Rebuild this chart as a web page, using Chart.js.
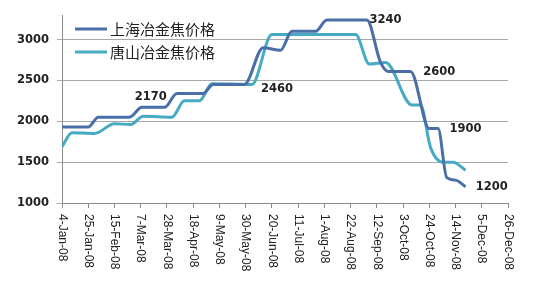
<!DOCTYPE html>
<html>
<head>
<meta charset="utf-8">
<script src="https://cdn.jsdelivr.net/npm/chart.js@4"></script>
<style>
  html, body { margin: 0; padding: 0; background: #fff; }
  #wrap { width: 549px; height: 290px; }
</style>
</head>
<body>
<div id="wrap"><canvas id="cokeChart" width="549" height="290"></canvas></div>
<script>
// Shanghai metallurgical coke price (dark blue)
const shDates = ['2008-01-04', '2008-01-25', '2008-02-02', '2008-02-27', '2008-03-08', '2008-03-26',
    '2008-04-05', '2008-04-26', '2008-05-04', '2008-05-29', '2008-06-13', '2008-06-27', '2008-07-06',
    '2008-07-25', '2008-08-03', '2008-09-04', '2008-09-15', '2008-09-21', '2008-10-09', '2008-10-24',
    '2008-10-31', '2008-11-07', '2008-11-14', '2008-11-22'];
const shValues = [1930, 1930, 2050, 2050, 2170, 2170, 2340, 2340, 2450, 2450, 2900, 2870, 3100,
    3100, 3240, 3240, 2720, 2610, 2610, 1910, 1910, 1310, 1280, 1200];

// Tangshan metallurgical coke price (light teal)
const tsDates = ['2008-01-04', '2008-01-12', '2008-01-30', '2008-02-15', '2008-02-28', '2008-03-09',
    '2008-04-01', '2008-04-11', '2008-04-23', '2008-05-03', '2008-06-04', '2008-06-20', '2008-08-26',
    '2008-09-06', '2008-09-19', '2008-10-10', '2008-10-17', '2008-10-25', '2008-11-04', '2008-11-12',
    '2008-11-22'];
const tsValues = [1690, 1860, 1850, 1970, 1960, 2060, 2050, 2250, 2250, 2460, 2450, 3060, 3060,
    2700, 2720, 2200, 2200, 1680, 1500, 1500, 1400];

const seriesNames = ['上海冶金焦价格', '唐山冶金焦价格'];

// value callouts on the chart
const calloutTexts = ['2170', '2460', '3240', '2600', '1900', '1200'];
const calloutDates = ['2008-03-15', '2008-06-24', '2008-09-19', '2008-11-01', '2008-11-22', '2008-12-13'];
const calloutValues = [2170, 2460, 3240, 2600, 1900, 1200];

const startDate = '2008-01-04';
const endDate = '2008-12-26';
const tickStepDays = 21;
const yTicks = [1000, 1500, 2000, 2500, 3000];

const monthNames = ['Jan', 'Feb', 'Mar', 'Apr', 'May', 'Jun', 'Jul', 'Aug', 'Sep', 'Oct', 'Nov', 'Dec'];
const DAY = 86400000;

function dayIndex(str) {
    const [y, m, d] = str.split('-').map(Number);
    const [y0, m0, d0] = startDate.split('-').map(Number);
    return Math.round((Date.UTC(y, m - 1, d) - Date.UTC(y0, m0 - 1, d0)) / DAY);
}

function dayLabel(idx) {
    const [y0, m0, d0] = startDate.split('-').map(Number);
    const dt = new Date(Date.UTC(y0, m0 - 1, d0) + idx * DAY);
    return dt.getUTCDate() + '-' + monthNames[dt.getUTCMonth()] + '-' + String(dt.getUTCFullYear()).slice(2);
}

const toPoints = (dates, values) => dates.map((d, i) => ({ x: dayIndex(d), y: values[i] }));

const darkColor = '#4A6EA8';
const lightColor = '#45AAC2';
const textColor = '#222222';
const calloutOffsets = [-10, 5, 0, 0, 0, 0];   // px, vertical nudge of each callout

// rotated date labels (read top-to-bottom) + inline legend + callouts
const decorations = {
    id: 'decorations',
    afterDraw(chart) {
        const ctx = chart.ctx;
        const xs = chart.scales.x;
        const ys = chart.scales.y;

        ctx.save();
        ctx.fillStyle = textColor;
        ctx.font = '12px "Liberation Sans", Arial, sans-serif';
        ctx.textAlign = 'left';
        ctx.textBaseline = 'middle';
        xs.ticks.forEach(t => {
            const px = xs.getPixelForValue(t.value);
            ctx.save();
            ctx.translate(px, xs.top + 11);
            ctx.rotate(Math.PI / 2);
            ctx.fillText(dayLabel(t.value), 0, 0);
            ctx.restore();
        });

        // legend
        const colors = [darkColor, lightColor];
        ctx.font = '15px "Noto Sans CJK SC", sans-serif';
        seriesNames.forEach((name, i) => {
            const y = 29 + i * 23;
            ctx.strokeStyle = colors[i];
            ctx.lineWidth = 3;
            ctx.beginPath();
            ctx.moveTo(75, y);
            ctx.lineTo(107, y);
            ctx.stroke();
            ctx.fillStyle = textColor;
            ctx.fillText(name, 110, y);
        });

        // callouts
        ctx.font = 'bold 11.5px "DejaVu Sans", sans-serif';
        ctx.textAlign = 'center';
        calloutTexts.forEach((txt, i) => {
            const px = xs.getPixelForValue(dayIndex(calloutDates[i]));
            const py = ys.getPixelForValue(calloutValues[i]) + calloutOffsets[i];
            ctx.fillText(txt, px, py);
        });
        ctx.restore();
    }
};

new Chart(document.getElementById('cokeChart').getContext('2d'), {
    type: 'line',
    data: {
        datasets: [
            {
                label: seriesNames[0],
                data: toPoints(shDates, shValues),
                borderColor: darkColor,
                borderWidth: 3,
                pointRadius: 0,
                cubicInterpolationMode: 'monotone',
                fill: false,
            },
            {
                label: seriesNames[1],
                data: toPoints(tsDates, tsValues),
                borderColor: lightColor,
                borderWidth: 3,
                pointRadius: 0,
                cubicInterpolationMode: 'monotone',
                fill: false,
            }
        ]
    },
    options: {
        responsive: false,
        animation: false,
        layout: { padding: { left: 0, right: 41, top: 15, bottom: 0 } },
        plugins: {
            legend: { display: false },
            tooltip: { enabled: false }
        },
        scales: {
            x: {
                type: 'linear',
                min: 0,
                max: dayIndex(endDate),
                afterBuildTicks: scale => {
                    const ticks = [];
                    for (let v = 0; v <= dayIndex(endDate); v += tickStepDays) ticks.push({ value: v });
                    scale.ticks = ticks;
                },
                afterFit: scale => { scale.height = 87; },
                ticks: { display: false },
                grid: { drawOnChartArea: false, drawTicks: true, tickLength: 5, color: '#8c8c8c' },
                border: { color: '#8c8c8c', width: 1 }
            },
            y: {
                min: 1000,
                max: 3300,
                afterBuildTicks: scale => { scale.ticks = yTicks.map(v => ({ value: v })); },
                afterFit: scale => { scale.width = 62; },
                ticks: {
                    color: textColor,
                    padding: 8,
                    callback: v => String(v),
                    font: { family: '"DejaVu Sans", sans-serif', size: 11.5, weight: 'bold' }
                },
                grid: { color: '#a8a8a8', tickLength: 5 },
                border: { color: '#8c8c8c', width: 1 }
            }
        }
    },
    plugins: [decorations]
});
</script>
</body>
</html>
